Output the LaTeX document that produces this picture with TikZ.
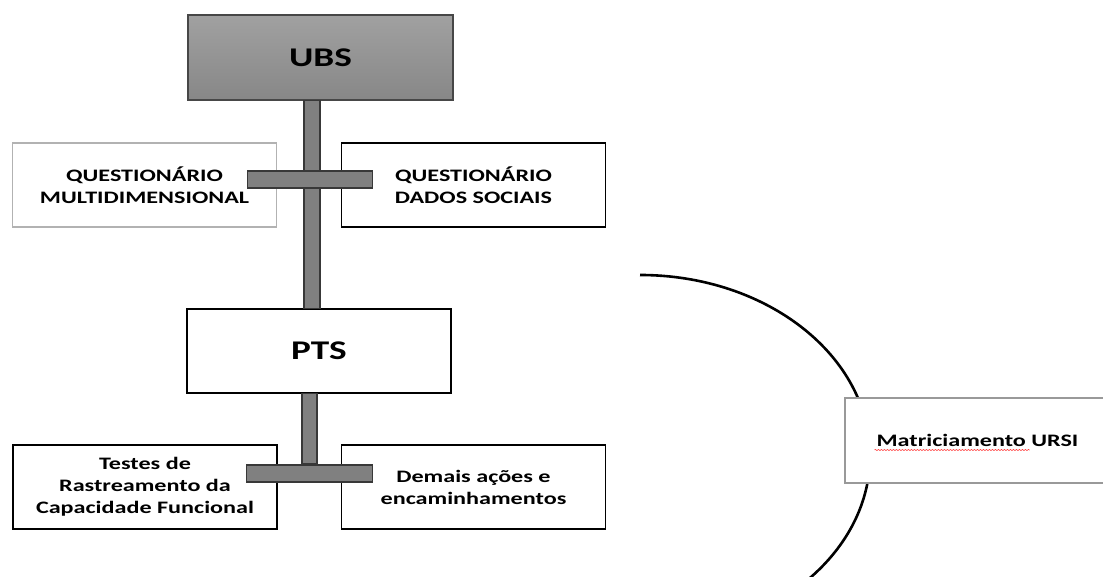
\documentclass[tikz,border=0pt]{standalone}
\usepackage{fontspec}
\setmainfont{Carlito}[FakeStretch=1.38]
\usetikzlibrary{calc, decorations.pathmorphing}
\colorlet{barfill}{black!50}
\colorlet{barline}{black!78}
\colorlet{paleline}{black!30}
\colorlet{softline}{black!40}

\begin{document}
\begin{tikzpicture}[x=1pt, y=1pt,
  box/.style={draw, line width=1.8pt, fill=white, align=center,
    minimum width=264pt, minimum height=84pt, inner sep=0pt,
    font=\bfseries\fontsize{17.5}{22}\selectfont},
  bar/.style={draw=barline, fill=barfill, line width=1.1pt}]

  \useasboundingbox (0,0) rectangle (1103,577);
  \clip (0,0) rectangle (1103,577);

  % --- the open arc, running behind the URSI box -----------------------------
  \draw[line width=2.6pt] (640,302)
    arc[start angle=90, end angle=-43, x radius=230, y radius=181];

  % --- boxes -----------------------------------------------------------------
  \node[box, top color=black!37, bottom color=black!47, draw=black!72,
        minimum width=265pt, minimum height=85pt,
        font=\bfseries\fontsize{27}{30}\selectfont] (ubs) at (320.5,519.5) {UBS};
  \node[box, draw=paleline] (qmulti) at (144.5,392) {QUESTIONÁRIO\\MULTIDIMENSIONAL};
  \node[box] (qsocial) at (473.5,392) {QUESTIONÁRIO\\DADOS SOCIAIS};
  \node[box, font=\bfseries\fontsize{27}{30}\selectfont] (pts) at (319,226) {PTS};
  \node[box] (tests) at (145,90) {Testes de\\Rastreamento da\\Capacidade Funcional};
  \node[box] (others) at (473.5,90) {Demais ações e\\encaminhamentos};
  \node[box, draw=softline, line width=1.4pt, minimum width=265pt, minimum height=85pt]
    (ursi) at (977.5,136.5) {Matriciamento URSI};
  \draw[red!75, line width=0.6pt, decorate,
        decoration={snake, amplitude=0.6pt, segment length=3pt}]
    ($(ursi.center)+(-103,-9.5)$) -- ($(ursi.center)+(52,-9.5)$);

  % --- connecting bars -------------------------------------------------------
  \draw[bar] ($(ubs.south)+(-16.5,0)$) rectangle ($(ubs.south |- pts.north)+(-0.5,0)$);
  \draw[bar] ($(pts.south)+(-17,0)$) rectangle ($(pts.south |- tests.north)+(-2,-19)$);
  \draw[bar] ($(qmulti.east)+(-30,14)$) rectangle ($(qsocial.west)+(32,-3)$);
  \draw[bar] ($(tests.east)+(-31,22)$) rectangle ($(others.west)+(32,5)$);

\end{tikzpicture}
\end{document}
